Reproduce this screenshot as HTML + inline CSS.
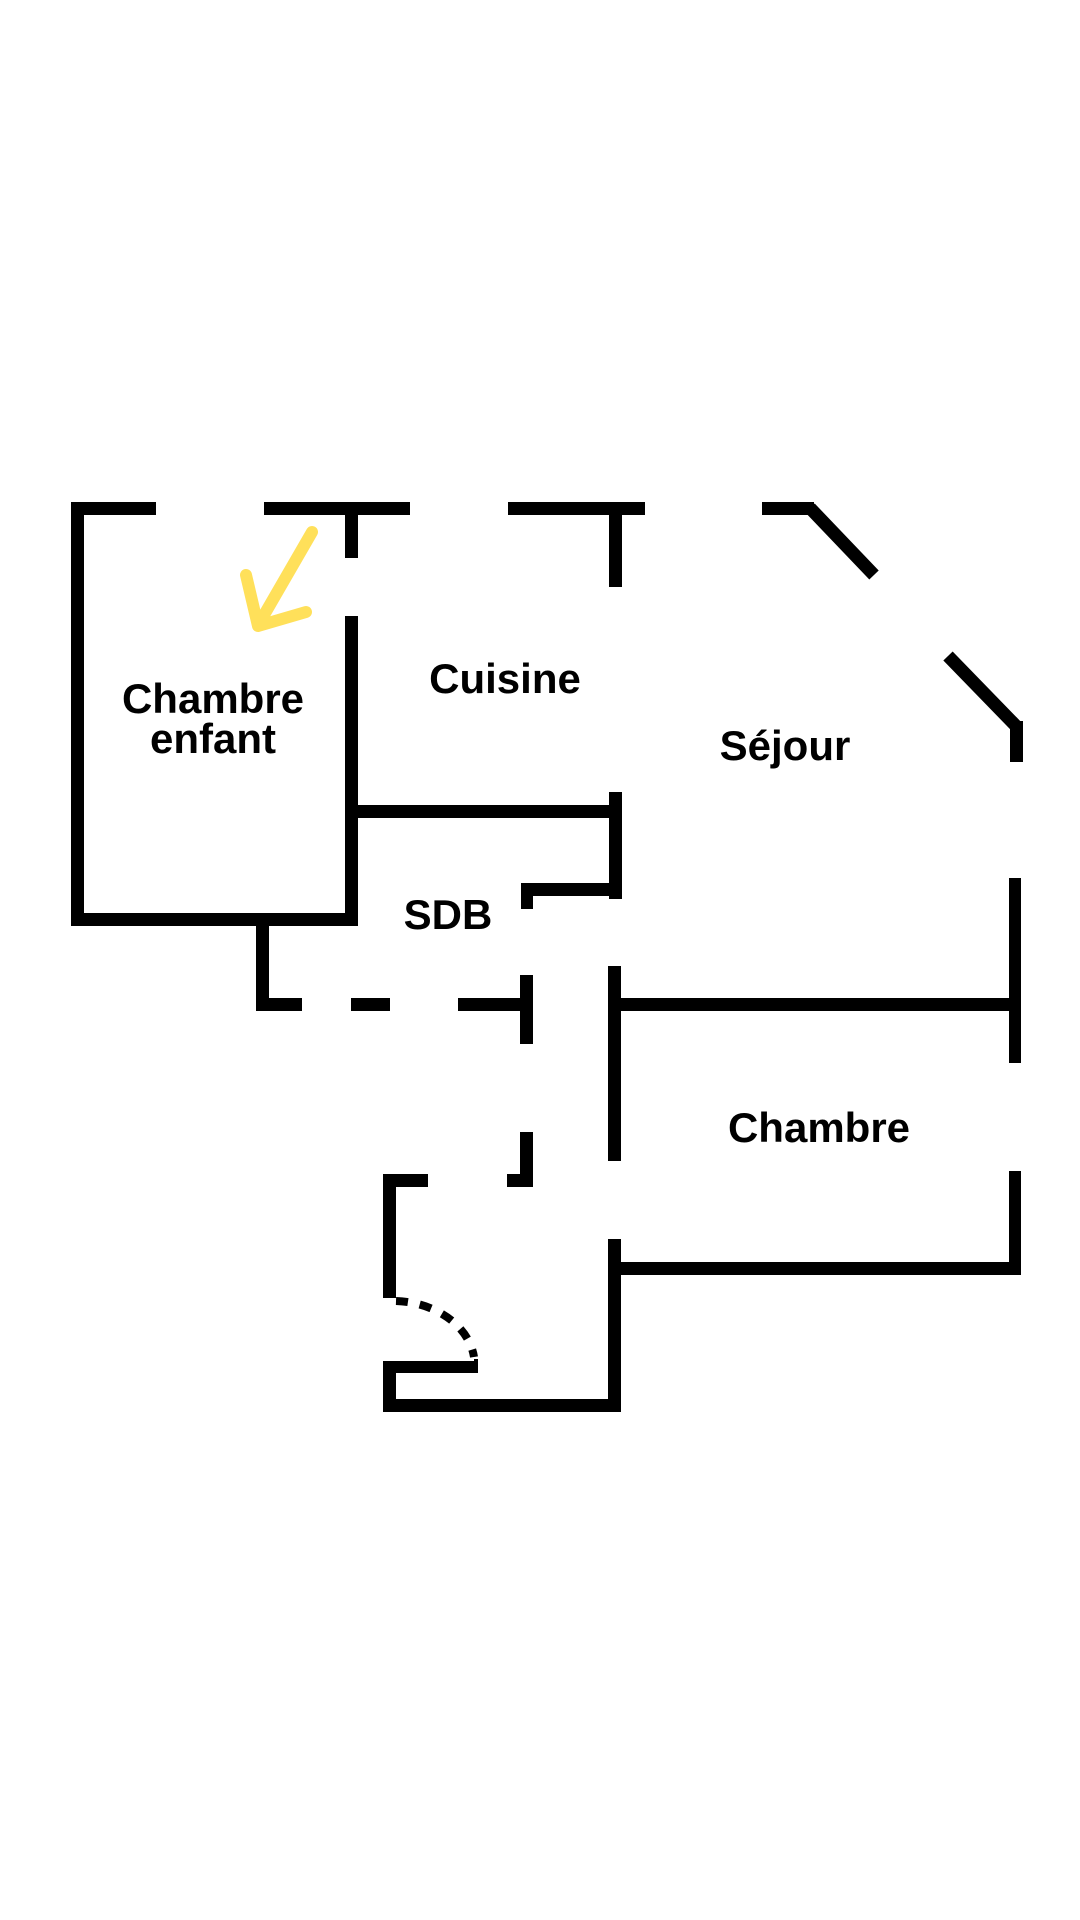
<!DOCTYPE html>
<html><head><meta charset="utf-8"><style>
html,body{margin:0;padding:0;background:#fff;}
svg{display:block;}
text{font-family:"Liberation Sans",sans-serif;font-weight:bold;font-size:42px;fill:#000;text-anchor:middle;}
</style></head><body>
<svg width="1080" height="1920" viewBox="0 0 1080 1920" xmlns="http://www.w3.org/2000/svg">
<g fill="#000">
<!-- top walls -->
<rect x="71" y="502" width="85" height="13"/>
<rect x="264" y="502" width="146" height="13"/>
<rect x="345" y="502" width="13" height="56"/>
<rect x="508" y="502" width="137" height="13"/>
<rect x="609" y="502" width="13" height="85"/>
<rect x="762" y="502" width="52" height="13"/>
<!-- left wall chambre enfant -->
<rect x="71" y="502" width="13" height="424"/>
<rect x="71" y="913" width="287" height="13"/>
<rect x="345" y="616" width="13" height="310"/>
<!-- cuisine/sdb -->
<rect x="358" y="805" width="264" height="13"/>
<rect x="609" y="792" width="13" height="107"/>
<rect x="521" y="883" width="101" height="13"/>
<rect x="521" y="883" width="12" height="26"/>
<!-- lower left dashed -->
<rect x="256" y="926" width="13" height="85"/>
<rect x="256" y="998" width="46" height="13"/>
<rect x="351" y="998" width="39" height="13"/>
<rect x="458" y="998" width="62" height="13"/>
<rect x="520" y="975" width="13" height="69"/>
<!-- sejour/chambre -->
<rect x="608" y="966" width="13" height="195"/>
<rect x="608" y="998" width="413" height="13"/>
<rect x="1009" y="878" width="12" height="185"/>
<rect x="1009" y="1171" width="12" height="104"/>
<rect x="608" y="1262" width="413" height="13"/>
<rect x="608" y="1239" width="13" height="173"/>
<rect x="383" y="1399" width="238" height="13"/>
<rect x="383" y="1361" width="13" height="51"/>
<rect x="383" y="1361" width="95" height="12"/>
<rect x="474" y="1359" width="4" height="8"/>
<!-- entrance upper -->
<rect x="383" y="1174" width="13" height="124"/>
<rect x="383" y="1174" width="45" height="13"/>
<rect x="507" y="1174" width="26" height="13"/>
<rect x="520" y="1132" width="13" height="55"/>
<!-- right upper wall -->
<rect x="1010" y="721" width="13" height="41"/>
</g>
<g stroke="#000" stroke-width="13" fill="none">
<line x1="810" y1="508" x2="874" y2="575"/>
<line x1="948" y1="656" x2="1016" y2="726"/>
<path d="M396 1301 A82 64 0 0 1 474 1357" stroke-width="8" stroke-dasharray="12 12"/>
</g>
<g stroke="#FFE05A" stroke-width="12" stroke-linecap="round" stroke-linejoin="round" fill="none">
<line x1="312" y1="532" x2="260" y2="622"/>
<polyline points="246,575 258,626 306,612"/>
</g>
<text x="213" y="713">Chambre</text>
<text x="213" y="753">enfant</text>
<text x="505" y="693">Cuisine</text>
<text x="785" y="760">Séjour</text>
<text x="448" y="929">SDB</text>
<text x="819" y="1142">Chambre</text>
</svg>
</body></html>
